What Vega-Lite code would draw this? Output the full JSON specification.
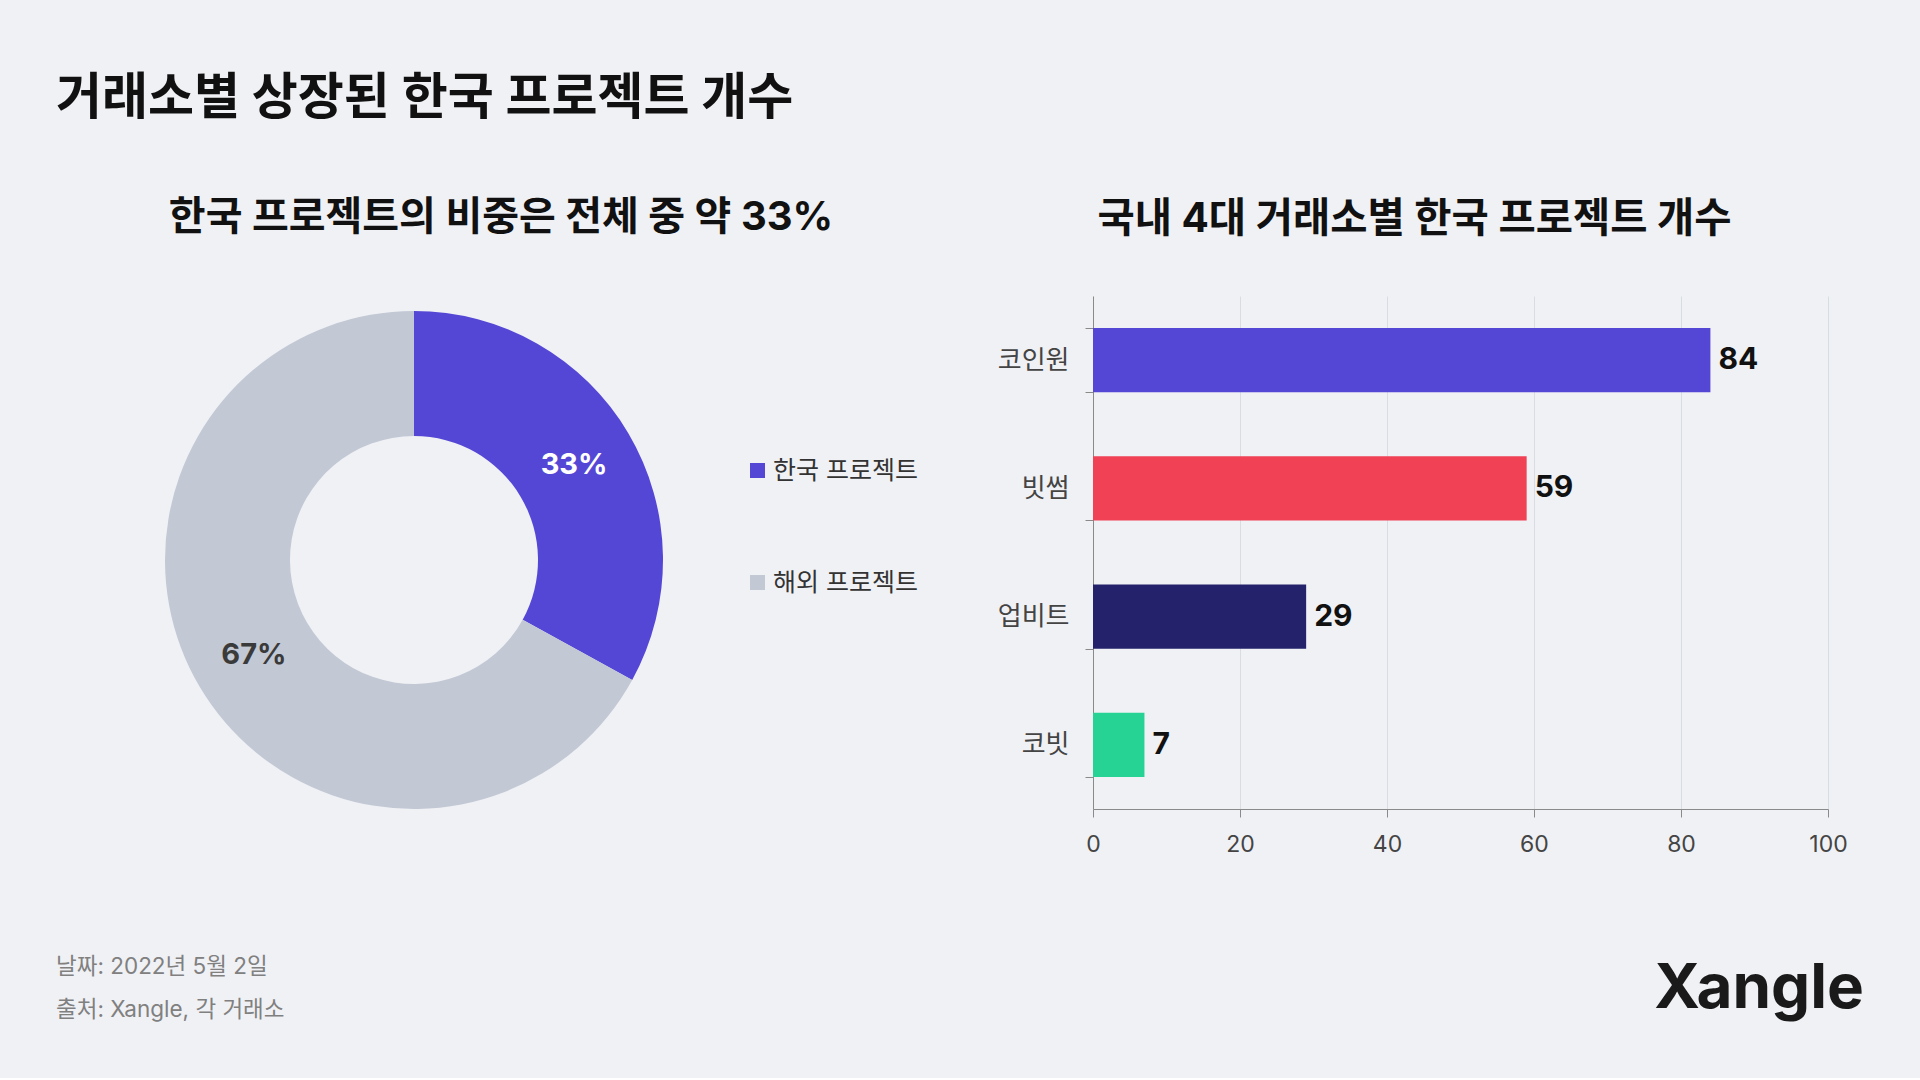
{
  "$schema": "https://vega.github.io/schema/vega-lite/v6.json",
  "background": "#F0F1F5",
  "padding": {"left": 56, "top": 74, "right": 56, "bottom": 56},
  "autosize": {"type": "pad"},
  "config": {
    "font": "Inter, Noto Sans CJK KR",
    "view": {"stroke": null},
    "axis": {"labelFont": "Inter, Noto Sans CJK KR"},
    "legend": {"labelFont": "Inter, Noto Sans CJK KR"}
  },
  "title": {
    "text": "거래소별 상장된 한국 프로젝트 개수",
    "anchor": "start",
    "frame": "group",
    "fontSize": 50,
    "fontWeight": "bold",
    "color": "#111111",
    "baseline": "top",
    "offset": 74
  },
  "datasets": {
    "share": [
      {"category": "한국 프로젝트", "value": 0.33},
      {"category": "해외 프로젝트", "value": 0.67}
    ],
    "exchange": [
      {"exchange": "코인원", "count": 84},
      {"exchange": "빗썸", "count": 59},
      {"exchange": "업비트", "count": 29},
      {"exchange": "코빗", "count": 7}
    ],
    "notes": [
      {"text": "날짜: 2022년 5월 2일", "line": 1, "side": "left"},
      {"text": "출처: Xangle, 각 거래소", "line": 2, "side": "left"}
    ],
    "logo": [
      {"text": "Xangle", "side": "right"}
    ]
  },
  "spacing": 100,
  "vconcat": [
    {
      "bounds": "flush",
      "spacing": 321,
      "resolve": {"scale": {"color": "independent"}, "legend": {"color": "independent"}},
      "hconcat": [
        {
          "width": 716,
          "height": 528,
          "title": {
            "text": "한국 프로젝트의 비중은 전체 중 약 33%",
            "frame": "group",
            "anchor": "middle",
            "dx": 87,
            "fontSize": 40,
            "fontWeight": "bold",
            "color": "#111111",
            "baseline": "alphabetic",
            "offset": 26
          },
          "data": {"name": "share"},
          "encoding": {
            "theta": {"field": "value", "type": "quantitative", "stack": true},
            "order": {"field": "category", "type": "ordinal", "sort": "ascending"}
          },
          "layer": [
            {
              "mark": {"type": "arc", "radius": 249, "innerRadius": 124},
              "encoding": {
                "color": {
                  "field": "category",
                  "type": "nominal",
                  "scale": {"domain": ["한국 프로젝트", "해외 프로젝트"], "range": ["#5547D6", "#C2C8D4"]},
                  "legend": {
                    "orient": "none",
                    "legendX": 689,
                    "legendY": 162,
                    "title": null,
                    "padding": 0,
                    "symbolType": "square",
                    "symbolSize": 225,
                    "symbolStrokeWidth": 0,
                    "labelFontSize": 25,
                    "labelColor": "#333333",
                    "labelOffset": 3,
                    "rowPadding": 86
                  }
                }
              }
            },
            {
              "mark": {"type": "text", "radius": 186, "fontSize": 29, "fontWeight": "bold"},
              "encoding": {
                "detail": {"field": "category", "type": "nominal"},
                "text": {"field": "value", "type": "quantitative", "format": ".0%"},
                "color": {
                  "condition": {"test": "datum.category === '한국 프로젝트'", "value": "#FFFFFF"},
                  "value": "#3A3A3A"
                }
              }
            }
          ]
        },
        {
          "width": 735,
          "height": 513,
          "title": {
            "text": "국내 4대 거래소별 한국 프로젝트 개수",
            "frame": "group",
            "anchor": "middle",
            "dx": -46,
            "fontSize": 40.5,
            "fontWeight": "bold",
            "color": "#111111",
            "baseline": "alphabetic",
            "offset": 11
          },
          "data": {"name": "exchange"},
          "encoding": {
            "y": {
              "field": "exchange",
              "type": "nominal",
              "sort": ["코인원", "빗썸", "업비트", "코빗"],
              "scale": {"paddingInner": 0.5, "paddingOuter": 0.25},
              "axis": {
                "title": null,
                "tickBand": "extent",
                "tickSize": 8,
                "tickColor": "#8A8A8A",
                "domainColor": "#8A8A8A",
                "labelFontSize": 26,
                "labelColor": "#444444",
                "labelPadding": 16,
                "grid": false
              }
            },
            "x": {
              "field": "count",
              "type": "quantitative",
              "scale": {"domain": [0, 100]},
              "axis": {
                "title": null,
                "values": [0, 20, 40, 60, 80, 100],
                "tickSize": 8,
                "tickColor": "#8A8A8A",
                "domainColor": "#8A8A8A",
                "gridColor": "#D9DCE2",
                "labelFontSize": 23,
                "labelColor": "#444444",
                "labelPadding": 16,
                "labelFlush": false
              }
            }
          },
          "layer": [
            {
              "mark": {"type": "bar"},
              "encoding": {
                "color": {
                  "field": "exchange",
                  "type": "nominal",
                  "scale": {"domain": ["코인원", "빗썸", "업비트", "코빗"], "range": ["#5547D6", "#F04155", "#23226B", "#26D294"]},
                  "legend": null
                }
              }
            },
            {
              "mark": {"type": "text", "align": "left", "dx": 8, "fontSize": 30, "fontWeight": "bold", "color": "#111111"},
              "encoding": {
                "text": {"field": "count", "type": "quantitative"}
              }
            }
          ]
        }
      ]
    },
    {
      "width": 1808,
      "height": 43,
      "layer": [
        {
          "data": {"name": "notes"},
          "mark": {"type": "text", "align": "left", "baseline": "middle", "fontSize": 22.5, "color": "#808080"},
          "encoding": {
            "x": {"field": "side", "type": "nominal", "scale": {"type": "point", "domain": ["left", "right"], "padding": 0}, "axis": null},
            "y": {"field": "line", "type": "ordinal", "scale": {"type": "point", "padding": 0}, "axis": null},
            "text": {"field": "text"}
          }
        },
        {
          "data": {"name": "logo"},
          "mark": {"type": "text", "align": "right", "baseline": "middle", "fontSize": 62, "fontWeight": "bold", "color": "#1A1A1A"},
          "encoding": {
            "x": {"field": "side", "type": "nominal", "axis": null},
            "text": {"field": "text"}
          }
        }
      ]
    }
  ]
}
